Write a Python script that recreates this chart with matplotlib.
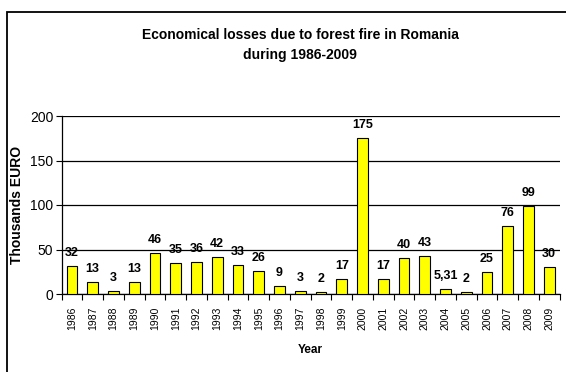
import matplotlib
matplotlib.use('Agg')
import matplotlib.pyplot as plt
from matplotlib.patches import Rectangle
import numpy as np

years = ['1986', '1987', '1988', '1989', '1990', '1991', '1992', '1993', '1994', '1995',
         '1996', '1997', '1998', '1999', '2000', '2001', '2002', '2003', '2004', '2005',
         '2006', '2007', '2008', '2009']
losses = [32, 13, 3, 13, 46, 35, 36, 42, 33, 26, 9, 3, 2, 17, 175, 17, 40, 43, 5.31, 2,
          25, 76, 99, 30]
labels = ['32', '13', '3', '13', '46', '35', '36', '42', '33', '26', '9', '3', '2', '17',
          '175', '17', '40', '43', '5,31', '2', '25', '76', '99', '30']
yticks = [0, 50, 100, 150, 200]

plt.rcParams['font.family'] = ['Liberation Sans', 'DejaVu Sans']

W, H = 566, 372
fig = plt.figure(figsize=(W / 100, H / 100), dpi=100)
# outer chart frame, runs off the right and bottom edges of the image
fig.patches.append(Rectangle((7 / W, -10 / H), 580 / W, 370 / H, transform=fig.transFigure,
                             fill=False, edgecolor='black', linewidth=1.3))

ax = fig.add_axes([61.6 / W, 1 - 294 / H, 498 / W, 178 / H])
x = np.arange(len(years))
ax.bar(x, losses, width=0.52, color='#ffff00', edgecolor='black', linewidth=0.8, zorder=3)
for xi, v, lab in zip(x, losses, labels):
    ax.annotate(lab, (xi, v), xytext=(0, 5), textcoords='offset points', ha='center',
                va='bottom', fontsize=9, fontweight='bold')

ax.set_xlim(-0.5, len(years) - 0.5)
ax.set_ylim(0, 200)
ax.set_yticks(yticks)
ax.tick_params(axis='y', labelsize=10, length=4, width=0.8, pad=2)
ax.yaxis.grid(True, color='black', linewidth=0.9, zorder=0)
ax.set_xticks(x)
ax.set_xticklabels(years, rotation=90, fontsize=7.5)
ax.tick_params(axis='x', length=0, pad=9)
ax.set_xticks(np.arange(len(years) + 1) - 0.5, minor=True)
ax.tick_params(axis='x', which='minor', length=4, width=0.8)
for s in ['top', 'right']:
    ax.spines[s].set_visible(False)
ax.spines['left'].set_linewidth(0.9)
ax.spines['bottom'].set_linewidth(0.9)

ax.set_ylabel('Thousands EURO', fontsize=10, fontweight='bold', labelpad=4)
ax.set_xlabel('Year', fontsize=8.5, fontweight='bold', labelpad=10)

fig.text(300 / W, 1 - 45 / H, 'Economical losses due to forest fire in Romania\nduring 1986-2009',
         ha='center', va='center', fontsize=10, fontweight='bold', linespacing=1.6)

fig.savefig('out.png', dpi=100)
